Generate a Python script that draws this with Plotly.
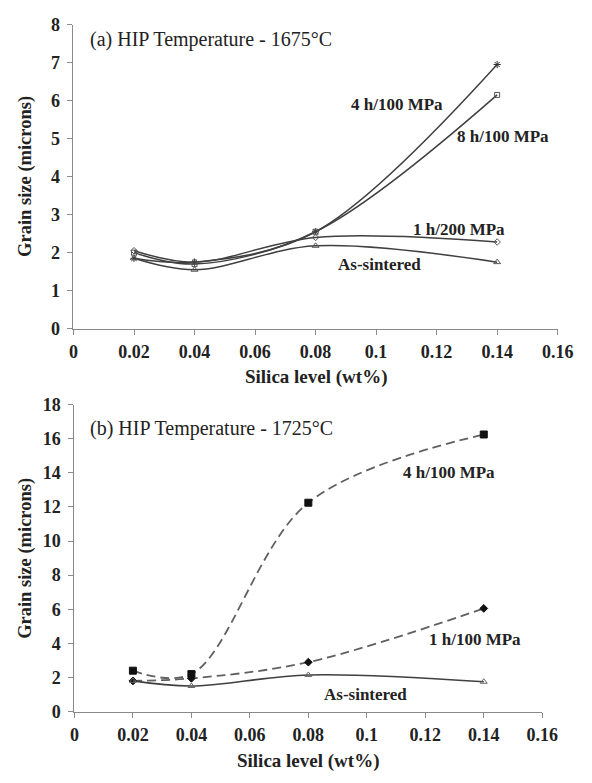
import plotly.graph_objects as go

# ---------------- data ----------------
silica = [0.02, 0.04, 0.08, 0.14]

# (a) HIP 1675 C
a_4h100 = [1.85, 1.75, 2.55, 6.95]
a_8h100 = [2.00, 1.70, 2.55, 6.15]
a_1h200 = [2.05, 1.75, 2.40, 2.28]
a_sint = [1.85, 1.55, 2.18, 1.75]

# (b) HIP 1725 C
b_4h100 = [2.40, 2.20, 12.25, 16.25]
b_1h100 = [1.80, 1.95, 2.90, 6.05]
b_sint = [1.80, 1.50, 2.15, 1.75]

x_ticks = [0, 0.02, 0.04, 0.06, 0.08, 0.1, 0.12, 0.14, 0.16]
x_ticktext = ["0", "0.02", "0.04", "0.06", "0.08", "0.1", "0.12", "0.14", "0.16"]
ya_ticks = [0, 1, 2, 3, 4, 5, 6, 7, 8]
yb_ticks = [0, 2, 4, 6, 8, 10, 12, 14, 16, 18]

W, H = 592, 783
SERIF = "Liberation Serif, Times New Roman, serif"
LINE = "#404040"
DASH = "#606060"
AXC = "#8a8a8a"

fig = go.Figure()

def add(x, y, xa, ya, color, width, dash, symbol, msize, mcolor):
    fig.add_trace(go.Scatter(
        x=x, y=y, xaxis=xa, yaxis=ya, mode="lines+markers",
        line=dict(color=color, width=width, dash=dash, shape="spline", smoothing=1.0),
        marker=dict(symbol=symbol, size=msize, color=mcolor,
                    line=dict(color=mcolor, width=1)),
        showlegend=False, hoverinfo="skip"))

DASHPAT = "9px,5px"

# panel (a)
add(silica, a_4h100, "x", "y", LINE, 1.5, "solid", "asterisk", 6, "#333")
add(silica, a_8h100, "x", "y", LINE, 1.5, "solid", "square-open", 5, "#555")
add(silica, a_1h200, "x", "y", LINE, 1.5, "solid", "diamond-open", 5, "#555")
add(silica, a_sint, "x", "y", LINE, 1.5, "solid", "triangle-up-open", 6, "#555")

# panel (b)
add(silica, b_4h100, "x2", "y2", DASH, 1.8, DASHPAT, "square", 7, "#111")
add(silica, b_1h100, "x2", "y2", DASH, 1.8, DASHPAT, "diamond", 6, "#111")
add(silica, b_sint, "x2", "y2", LINE, 1.6, "solid", "triangle-up-open", 6, "#666")

axis_common = dict(
    showline=True, linecolor=AXC, linewidth=1, ticks="outside", ticklen=5,
    tickcolor=AXC, showgrid=False, zeroline=False,
    tickfont=dict(family=SERIF, size=18, color="#222"),
)

def px_dom_x(l, r):
    return [l / W, r / W]

def px_dom_y(top, bot):
    return [(H - bot) / H, (H - top) / H]

fig.update_layout(
    width=W, height=H, margin=dict(l=0, r=0, t=0, b=0),
    paper_bgcolor="white", plot_bgcolor="white",
    xaxis=dict(domain=px_dom_x(71, 573), range=[0, 0.16], tickvals=x_ticks,
               ticktext=["<b>%s</b>" % t for t in x_ticktext], anchor="y",
               ticklabelstandoff=2, **axis_common),
    yaxis=dict(domain=px_dom_y(15, 327), range=[0, 8], tickvals=ya_ticks,
               ticktext=["<b>%d</b>" % t for t in ya_ticks], anchor="x",
               ticklabelstandoff=4, **axis_common),
    xaxis2=dict(domain=px_dom_x(72, 557), range=[0, 0.16], tickvals=x_ticks,
                ticktext=["<b>%s</b>" % t for t in x_ticktext], anchor="y2",
                ticklabelstandoff=2, **axis_common),
    yaxis2=dict(domain=px_dom_y(405, 720), range=[0, 18], tickvals=yb_ticks,
                ticktext=["<b>%d</b>" % t for t in yb_ticks], anchor="x2",
                ticklabelstandoff=4, **axis_common),
)

ann = []
def label(text, x, y, xref, yref, size=16, bold=True, xanchor="center", angle=0):
    ann.append(dict(text=("<b>%s</b>" % text) if bold else text, x=x, y=y,
                    xref=xref, yref=yref, showarrow=False, xanchor=xanchor,
                    yanchor="middle", textangle=angle,
                    font=dict(family=SERIF, size=size, color="#222")))

# panel titles
label("(a) HIP Temperature - 1675°C", 86 / W, (H - 30) / H, "paper", "paper", 20, False, "left")
label("(b) HIP Temperature - 1725°C", 86 / W, (H - 429) / H, "paper", "paper", 20, False, "left")

# axis titles
label("Silica level (wt%)", 322 / W, (H - 377) / H, "paper", "paper", 19)
label("Silica level (wt%)", 314 / W, (H - 771) / H, "paper", "paper", 19)
label("Grain size (microns)", 21 / W, (H - 171) / H, "paper", "paper", 18.5, True, "center", -90)
label("Grain size (microns)", 21 / W, (H - 563) / H, "paper", "paper", 18.5, True, "center", -90)

# series labels
label("4 h/100 MPa", 0.107, 5.9, "x", "y", 17)
label("8 h/100 MPa", 0.142, 5.05, "x", "y", 17)
label("1 h/200 MPa", 0.1275, 2.6, "x", "y", 17)
label("As-sintered", 0.101, 1.7, "x", "y", 17)
label("4 h/100 MPa", 0.128, 14.0, "x2", "y2", 17)
label("1 h/100 MPa", 0.137, 4.23, "x2", "y2", 17)
label("As-sintered", 0.0996, 1.03, "x2", "y2", 17)

fig.update_layout(annotations=ann)
fig.write_html("out.html")
